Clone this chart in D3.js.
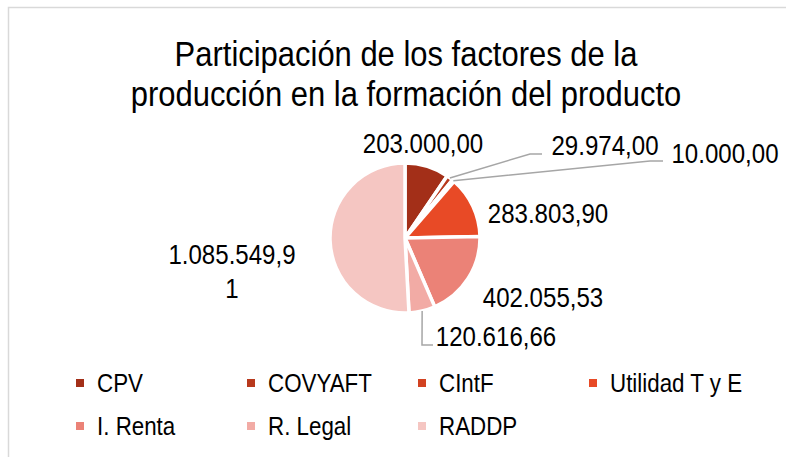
<!DOCTYPE html>
<html>
<head>
<meta charset="utf-8">
<script src="https://cdn.jsdelivr.net/npm/d3@7"></script>
<style>
	body { margin: 0; background: #fff; }
	text { font-family: 'Liberation Sans Narrow', 'Arial Narrow', 'Liberation Sans', Arial, sans-serif; fill: #000; }
</style>
</head>
<body>
<div id="chart"></div>
<script>
// data
const categories = ['CPV', 'COVYAFT', 'CIntF', 'Utilidad T y E', 'I. Renta', 'R. Legal', 'RADDP']
const values = [203000.0, 29974.0, 10000.0, 283803.9, 402055.53, 120616.66, 1085549.91]
const valueLabels = [
	['203.000,00'],
	['29.974,00'],
	['10.000,00'],
	['283.803,90'],
	['402.055,53'],
	['120.616,66'],
	['1.085.549,9', '1'],
]
const colors = ['#a32f18', '#b8391d', '#d24221', '#e84a26', '#eb8277', '#f2aba5', '#f5c6c2']
const titleLines = ['Participación de los factores de la', 'producción en la formación del producto']

const width = 786
const height = 457
const cx = 405
const cy = 238
const radius = 75
// no narrow font installed, so squeeze the regular one
const narrow = 0.86

// label layout (centre of text, relative to pie centre) and optional leader elbow
const labelLayout = [
	{dx: 18, dy: -95},
	{dx: 200, dy: -93, leader: [[125, -84], [137, -84]]},
	{dx: 320, dy: -85, leader: [[245, -77], [258, -77]]},
	{dx: 143, dy: -25},
	{dx: 138, dy: 59},
	{dx: 91, dy: 98, leader: [[17, 107], [28, 107]]},
	{dx: -173, dy: 33},
]

const svg = d3
	.select('#chart')
	.append('svg')
	.attr('width', width)
	.attr('height', height)
	.attr('style', 'display:block')

// outer border (cropped at right/bottom)
svg
	.append('path')
	.attr('d', `M8.5,${height} V7.5 H${width}`)
	.attr('fill', 'none')
	.attr('stroke', '#d9d9d9')
	.attr('stroke-width', 1.5)

svg
	.append('g')
	.selectAll('text')
	.data(titleLines)
	.join('text')
	.attr('transform', (d, i) => `translate(406, ${66 + i * 40}) scale(${narrow}, 1)`)
	.attr('text-anchor', 'middle')
	.attr('font-size', 36)
	.text((d) => d)

const pie = d3.pie().sort(null).value((d) => d.value)
const arcs = pie(categories.map((c, i) => ({category: c, value: values[i], i})))
const arc = d3.arc().innerRadius(0).outerRadius(radius)
const edgeArc = d3.arc().innerRadius(radius).outerRadius(radius)

const g = svg.append('g').attr('transform', `translate(${cx}, ${cy})`)

g.selectAll('path.slice')
	.data(arcs)
	.join('path')
	.attr('class', 'slice')
	.attr('d', arc)
	.attr('fill', (d) => colors[d.data.i])
	.attr('stroke', '#fff')
	.attr('stroke-width', 3.5)
	.attr('stroke-linejoin', 'round')

// leader lines
g.selectAll('path.leader')
	.data(arcs.filter((d) => labelLayout[d.data.i].leader))
	.join('path')
	.attr('class', 'leader')
	.attr('d', (d) => d3.line()([edgeArc.centroid(d), ...labelLayout[d.data.i].leader]))
	.attr('fill', 'none')
	.attr('stroke', '#a6a6a6')
	.attr('stroke-width', 1.5)

const labels = g
	.selectAll('text.value')
	.data(arcs)
	.join('text')
	.attr('class', 'value')
	.attr('text-anchor', 'middle')
	.attr('font-size', 28)
	.attr(
		'transform',
		(d) => `translate(${labelLayout[d.data.i].dx}, ${labelLayout[d.data.i].dy}) scale(${narrow}, 1)`
	)

labels
	.selectAll('tspan')
	.data((d) => valueLabels[d.data.i].map((t, k, all) => ({t, k, n: all.length})))
	.join('tspan')
	.attr('x', 0)
	.attr('y', (d) => (d.k - (d.n - 1) / 2) * 34)
	.attr('dy', '0.35em')
	.text((d) => d.t)

// legend
const legend = svg
	.append('g')
	.selectAll('g')
	.data(categories)
	.join('g')
	.attr('transform', (d, i) => `translate(${76 + (i % 4) * 171}, ${383 + Math.floor(i / 4) * 43})`)

legend
	.append('rect')
	.attr('x', 0)
	.attr('y', -4)
	.attr('width', 8)
	.attr('height', 8)
	.attr('fill', (d, i) => colors[i])

legend
	.append('text')
	.attr('transform', `translate(21, 0) scale(${narrow}, 1)`)
	.attr('dy', '0.35em')
	.attr('font-size', 26)
	.text((d) => d)
</script>
</body>
</html>
